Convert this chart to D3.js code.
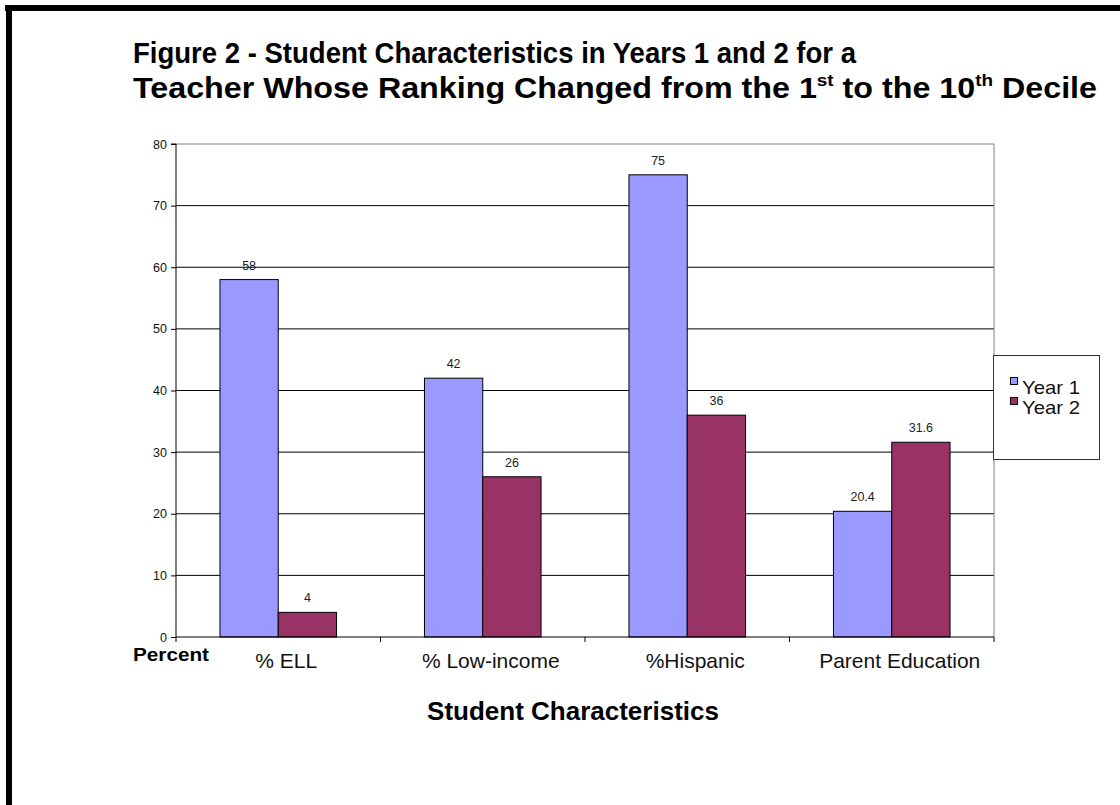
<!DOCTYPE html>
<html lang="en">
<head>
<meta charset="UTF-8">
<title>Figure 2</title>
<style>
  body { margin: 0; background: #fff; }
  text { font-family: "Liberation Sans", Arial, sans-serif; }
</style>
</head>
<body>
<svg id="chart" width="1120" height="805"></svg>
<script src="https://d3js.org/d3.v7.min.js"></script>
<script>
const categories = ["% ELL", "% Low-income", "%Hispanic", "Parent Education"];
const seriesNames = ["Year 1", "Year 2"];
const year1 = [58, 42, 75, 20.4];
const year2 = [4, 26, 36, 31.6];
const yTicks = [0, 10, 20, 30, 40, 50, 60, 70, 80];
const colors = ["#9999FF", "#993366"];

const svg = d3.select("#chart");

// frame: top and left only
svg.append("rect").attr("x", 5).attr("y", 5).attr("width", 1115).attr("height", 6).attr("fill", "#000");
svg.append("rect").attr("x", 6).attr("y", 5).attr("width", 6).attr("height", 800).attr("fill", "#000");

// title (each line fitted to the width it has in the figure)
svg.append("text").attr("x", 133).attr("y", 63)
  .attr("font-size", 29).attr("font-weight", "bold")
  .attr("textLength", 723).attr("lengthAdjust", "spacingAndGlyphs")
  .text("Figure 2 - Student Characteristics in Years 1 and 2 for a");
const t2 = svg.append("text").attr("x", 133).attr("y", 98)
  .attr("font-size", 29).attr("font-weight", "bold")
  .attr("textLength", 964).attr("lengthAdjust", "spacingAndGlyphs");
t2.append("tspan").text("Teacher Whose Ranking Changed from the 1");
t2.append("tspan").attr("font-size", 17).attr("dy", -12).text("st");
t2.append("tspan").attr("dy", 12).text(" to the 10");
t2.append("tspan").attr("font-size", 17).attr("dy", -12).text("th");
t2.append("tspan").attr("dy", 12).text(" Decile");

const pLeft = 176, pRight = 994, pTop = 144, pBottom = 637;

const x0 = d3.scaleBand().domain(categories).range([pLeft, pRight])
  .paddingInner(0.43).paddingOuter(0.215);
const x1 = d3.scaleBand().domain(seriesNames).range([0, x0.bandwidth()]);
const y = d3.scaleLinear().domain([0, 80]).range([pBottom, pTop]);

// gridlines
svg.append("g").selectAll("line").data(yTicks.filter(d => d > 0 && d < 80)).join("line")
  .attr("x1", pLeft).attr("x2", pRight)
  .attr("y1", d => y(d)).attr("y2", d => y(d))
  .attr("stroke", "#000").attr("stroke-width", 1);

// plot border top/right
svg.append("line").attr("x1", pLeft).attr("x2", pRight).attr("y1", y(80)).attr("y2", y(80))
  .attr("stroke", "#808080");
svg.append("line").attr("x1", pRight).attr("x2", pRight).attr("y1", pTop).attr("y2", pBottom)
  .attr("stroke", "#808080");

// bars
const rows = categories.map((c, i) => ({ cat: c, vals: [year1[i], year2[i]] }));
const groups = svg.append("g").selectAll("g").data(rows).join("g")
  .attr("transform", d => `translate(${x0(d.cat)},0)`);
groups.selectAll("rect").data(d => d.vals.map((v, j) => ({ s: seriesNames[j], v, j }))).join("rect")
  .attr("x", d => x1(d.s)).attr("y", d => y(d.v))
  .attr("width", x1.bandwidth()).attr("height", d => pBottom - y(d.v))
  .attr("fill", d => colors[d.j]).attr("stroke", "#000").attr("stroke-width", 1);
groups.selectAll("text").data(d => d.vals.map((v, j) => ({ s: seriesNames[j], v, j }))).join("text")
  .attr("x", d => x1(d.s) + x1.bandwidth() / 2).attr("y", d => y(d.v) - 10)
  .attr("text-anchor", "middle").attr("font-size", 12.5).attr("fill", "#222")
  .text(d => d.v);

// y axis
const yAxis = d3.axisLeft(y).tickValues(yTicks).tickSize(5).tickPadding(4);
const gy = svg.append("g").attr("transform", `translate(${pLeft},0)`).call(yAxis);
gy.selectAll("text").attr("font-size", 12.5).attr("font-family", "Liberation Sans, Arial, sans-serif").attr("fill", "#111");
gy.selectAll("line").attr("stroke", "#000");
gy.select(".domain").attr("stroke", "#000").attr("d", `M-5,${pTop}H0V${pBottom}`);

// x axis (ticks at band boundaries)
const xAxisLine = svg.append("g");
xAxisLine.append("line").attr("x1", pLeft).attr("x2", pRight).attr("y1", pBottom).attr("y2", pBottom)
  .attr("stroke", "#000");
const bounds = categories.map(c => x0(c) - x0.step() * x0.paddingOuter()).concat([pRight]);
xAxisLine.selectAll(".tk").data(bounds).join("line")
  .attr("x1", d => d).attr("x2", d => d).attr("y1", pBottom).attr("y2", pBottom + 5)
  .attr("stroke", "#000");
svg.append("g").selectAll("text").data(categories).join("text")
  .attr("x", d => x0(d) + x0.bandwidth() / 2 + 8).attr("y", 668)
  .attr("text-anchor", "middle").attr("font-size", 21).attr("fill", "#111").text(d => d);

svg.append("text").attr("x", 133).attr("y", 661).attr("font-size", 18)
  .attr("textLength", 76).attr("lengthAdjust", "spacingAndGlyphs")
  .attr("font-weight", "bold").text("Percent");
svg.append("text").attr("x", 573).attr("y", 720).attr("font-size", 26)
  .attr("font-weight", "bold").attr("text-anchor", "middle").text("Student Characteristics");

// legend
const lg = svg.append("g");
lg.append("rect").attr("x", 993.5).attr("y", 355.5).attr("width", 106).attr("height", 104)
  .attr("fill", "#fff").attr("stroke", "#333");
lg.selectAll("g").data(seriesNames).join("g")
  .each(function (d, i) {
    const g = d3.select(this);
    g.append("rect").attr("x", 1010.5).attr("y", 377.5 + i * 20).attr("width", 7).attr("height", 7)
      .attr("fill", colors[i]).attr("stroke", "#000");
    g.append("text").attr("x", 1022).attr("y", 394 + i * 20).attr("font-size", 19)
      .attr("textLength", 58).attr("lengthAdjust", "spacingAndGlyphs")
      .attr("fill", "#111").text(d);
  });
</script>
</body>
</html>
